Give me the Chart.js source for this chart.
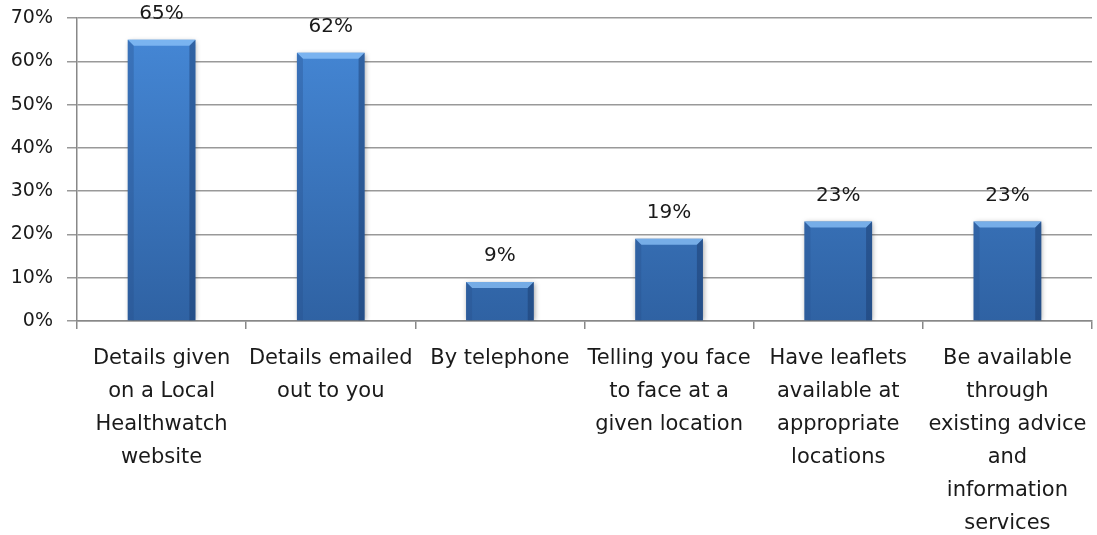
<!DOCTYPE html>
<html>
<head>
<meta charset="utf-8">
<script src="https://cdn.jsdelivr.net/npm/chart.js@4"></script>
<style>
  html, body { margin: 0; padding: 0; background: #fff; }
  #wrap { width: 1097px; height: 535px; }
</style>
</head>
<body>
<div id="wrap"><canvas id="chart"></canvas></div>
<script>
const categories = [
    ['Details given', 'on a Local', 'Healthwatch', 'website'],
    ['Details emailed', 'out to you'],
    ['By telephone'],
    ['Telling you face', 'to face at a', 'given location'],
    ['Have leaflets', 'available at', 'appropriate', 'locations'],
    ['Be available', 'through', 'existing advice', 'and', 'information', 'services']
];
const percentages = [65, 62, 9, 19, 23, 23];
const yTicks = [0, 10, 20, 30, 40, 50, 60, 70];

const FONT = '"DejaVu Sans", Verdana, sans-serif';

// vertical blue gradient per bar
function barFill(context) {
    const el = context.element;
    const { ctx, chartArea } = context.chart;
    if (!chartArea) return '#3a76c4';
    const top = el && el.y !== undefined ? el.y : chartArea.top;
    const bottom = el && el.base !== undefined ? el.base : chartArea.bottom;
    const g = ctx.createLinearGradient(0, top, 0, Math.max(bottom, top + 1));
    g.addColorStop(0, '#4689d8');
    g.addColorStop(1, '#2f62a3');
    return g;
}

// soft shadow under bars
const barShadow = {
    id: 'barShadow',
    beforeDatasetsDraw(chart) {
        const ctx = chart.ctx;
        ctx.save();
        ctx.shadowColor = 'rgba(0,0,0,0.35)';
        ctx.shadowBlur = 5;
        ctx.shadowOffsetX = 1;
        ctx.shadowOffsetY = 1;
    },
    afterDatasetsDraw(chart) {
        chart.ctx.restore();
    }
};

// bevel highlights and side shading on each bar
const barBevel = {
    id: 'barBevel',
    afterDatasetsDraw(chart) {
        const ctx = chart.ctx;
        chart.getDatasetMeta(0).data.forEach(bar => {
            const left = bar.x - bar.width / 2;
            const right = bar.x + bar.width / 2;
            const top = bar.y;
            const bottom = bar.base;
            const b = 6;
            ctx.save();
            // top bevel
            ctx.fillStyle = 'rgba(140,195,250,0.75)';
            ctx.beginPath();
            ctx.moveTo(left, top);
            ctx.lineTo(right, top);
            ctx.lineTo(right - b, top + b);
            ctx.lineTo(left + b, top + b);
            ctx.closePath();
            ctx.fill();
            // left bevel
            ctx.fillStyle = 'rgba(40,80,140,0.35)';
            ctx.beginPath();
            ctx.moveTo(left, top);
            ctx.lineTo(left + b, top + b);
            ctx.lineTo(left + b, bottom);
            ctx.lineTo(left, bottom);
            ctx.closePath();
            ctx.fill();
            // right bevel
            ctx.fillStyle = 'rgba(25,55,105,0.45)';
            ctx.beginPath();
            ctx.moveTo(right, top);
            ctx.lineTo(right - b, top + b);
            ctx.lineTo(right - b, bottom);
            ctx.lineTo(right, bottom);
            ctx.closePath();
            ctx.fill();
            ctx.restore();
        });
    }
};

// value labels above each bar
const valueLabels = {
    id: 'valueLabels',
    afterDatasetsDraw(chart) {
        const ctx = chart.ctx;
        const ds = chart.data.datasets[0];
        ctx.save();
        ctx.font = '20px ' + FONT;
        ctx.fillStyle = '#1a1a1a';
        ctx.textAlign = 'center';
        ctx.textBaseline = 'middle';
        chart.getDatasetMeta(0).data.forEach((bar, i) => {
            ctx.fillText(ds.data[i] + '%', bar.x, bar.y - 26);
        });
        ctx.restore();
    }
};

new Chart(document.getElementById('chart'), {
    type: 'bar',
    data: {
        labels: categories,
        datasets: [{
            data: percentages,
            backgroundColor: barFill,
            borderWidth: 0,
            barPercentage: 0.8,
            categoryPercentage: 0.5
        }]
    },
    options: {
        responsive: true,
        maintainAspectRatio: false,
        animation: false,
        layout: { padding: { top: 0, right: 5, left: 0, bottom: 0 } },
        plugins: {
            legend: { display: false },
            tooltip: { enabled: false }
        },
        scales: {
            x: {
                offset: true,
                grid: {
                    offset: true,
                    drawOnChartArea: false,
                    drawTicks: true,
                    tickLength: 8,
                    color: '#888',
                    lineWidth: 1.5
                },
                border: { color: '#888', width: 1.5 },
                ticks: {
                    color: '#1a1a1a',
                    font: { family: FONT, size: 21, lineHeight: 1.57 },
                    maxRotation: 0,
                    autoSkip: false,
                    padding: 13
                },
                afterFit(scale) {
                    scale.height = 535 - 321;
                    scale.paddingLeft = 0;
                    scale.paddingRight = 0;
                }
            },
            y: {
                min: 0,
                max: 70,
                afterBuildTicks(scale) {
                    scale.ticks = yTicks.map(v => ({ value: v }));
                },
                grid: {
                    color: '#999',
                    lineWidth: 1.5,
                    tickLength: 10
                },
                border: { color: '#888', width: 1.5 },
                ticks: {
                    color: '#1a1a1a',
                    font: { family: FONT, size: 19 },
                    padding: 14,
                    callback: v => v + '%'
                },
                afterFit(scale) {
                    scale.width = 77;
                    scale.paddingTop = 18;
                    scale.paddingBottom = 0;
                }
            }
        }
    },
    plugins: [barShadow, barBevel, valueLabels]
});
</script>
</body>
</html>
